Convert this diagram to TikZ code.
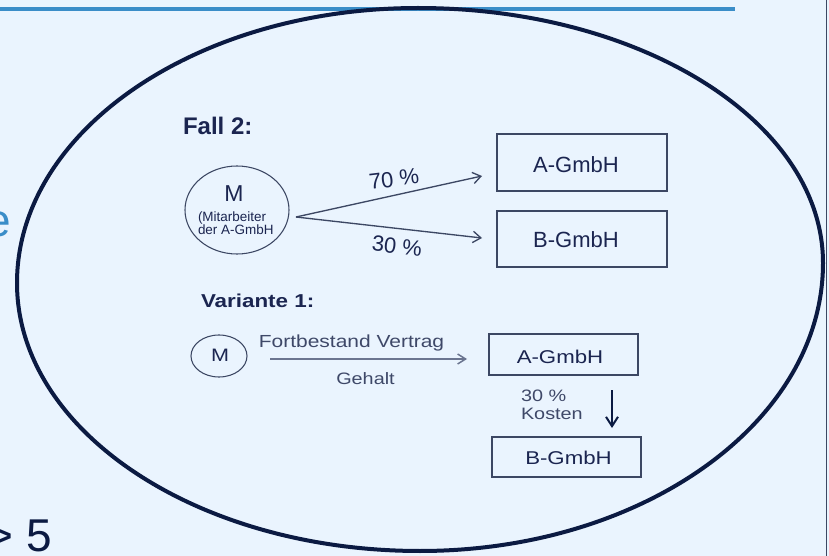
\documentclass[tikz,border=0pt]{standalone}
\usepackage{fontspec}
\setmainfont{Liberation Sans}
\newfontfamily\widesans[FakeStretch=1.2]{Liberation Sans}
\usetikzlibrary{arrows.meta,shapes.geometric}

\definecolor{bg}{HTML}{EAF4FE}
\definecolor{rulebl}{HTML}{3A8DC8}
\definecolor{navy}{HTML}{0B1A42}
\definecolor{boxline}{HTML}{3C4763}
\definecolor{txtdark}{HTML}{1B2550}
\definecolor{txtgray}{HTML}{3E4868}
\definecolor{arrgray}{HTML}{6B7590}

\begin{document}
\begin{tikzpicture}[x=0.75pt,y=-0.75pt,
  every node/.style={inner sep=0pt,outer sep=0pt},
  company/.style={draw=boxline,line width=1pt,rectangle},
  person/.style={draw=boxline,line width=0.8pt,ellipse},
  share/.style={draw=boxline,line width=1pt,-{Straight Barb[length=6pt,width=8.5pt]}},
  flow/.style={draw=arrgray,line width=1.1pt,-{Straight Barb[length=6pt,width=7.5pt]}},
  cost/.style={draw=navy,line width=1.5pt,-{Straight Barb[length=7pt,width=9pt]}}]

% canvas
\useasboundingbox (0,0) rectangle (829,556);
\fill[bg] (0,0) rectangle (829,556);
\clip (0,0) rectangle (829,556);

% slide furniture
\draw[rulebl,line width=2.6pt] (0,9) -- (735,9);
\draw[boxline,line width=1.1pt] (826.5,0) -- (826.5,556);
\node[anchor=base east,text=rulebl,font=\fontsize{34.5pt}{40pt}\selectfont] (headtail) at (11,237) {e};
\node[anchor=base east,text=navy,font=\fontsize{34.5pt}{40pt}\selectfont] (bullettail) at (52,551) {> 5};

% big outline around both cases
\draw[navy,line width=3pt]
  (823,263) .. controls (823,122.2) and (641.7,8) .. (418,8)
            .. controls (196.5,8) and (17,131.1) .. (17,283)
            .. controls (17,431) and (197.4,551) .. (420,551)
            .. controls (642.6,551) and (823,422.1) .. cycle;

% ---- Fall 2 ----
\node[anchor=base west,text=txtdark,font=\bfseries\fontsize{18pt}{21pt}\selectfont] (fall) at (183,135) {Fall 2:};

\node[person,minimum width=78pt,minimum height=66pt] (m1) at (237,210) {};
\node[anchor=base,text=txtdark,font=\fontsize{17.25pt}{20pt}\selectfont] (m1name) at (234,202) {M};
\node[anchor=base west,text=txtdark,font=\fontsize{10.1pt}{12pt}\selectfont] (m1l1) at (198,222) {(Mitarbeiter};
\node[anchor=base west,text=txtdark,font=\fontsize{10.1pt}{12pt}\selectfont] (m1l2) at (198,235) {der A-GmbH};

\node[company,minimum width=127.5pt,minimum height=42.75pt] (a1) at (582,162.5) {};
\node[text=txtdark,font=\fontsize{16.5pt}{19pt}\selectfont] (a1t) at (576,165) {A-GmbH};
\node[company,minimum width=127.5pt,minimum height=42pt] (b1) at (582,239) {};
\node[text=txtdark,font=\fontsize{16.5pt}{19pt}\selectfont] (b1t) at (576,239.5) {B-GmbH};

\coordinate (fork) at (296,217);
\coordinate (tipa) at (482,176);
\coordinate (tipb) at (482,238);
\draw[share] (fork) -- (tipa);
\draw[share] (fork) -- (tipb);
\node[text=txtdark,rotate=7,font=\fontsize{16.5pt}{19pt}\selectfont] (pa) at (394,179) {70 \%};
\node[text=txtdark,rotate=-6,font=\fontsize{16.5pt}{19pt}\selectfont] (pb) at (397,246) {30 \%};

% ---- Variante 1 ----
\node[anchor=base west,text=txtdark,font=\widesans\bfseries\fontsize{14pt}{17pt}\selectfont] (var) at (201,307) {Variante 1:};

\node[person,minimum width=42pt,minimum height=31.5pt] (m2) at (219,356) {};
\node[text=txtdark,font=\widesans\fontsize{13.5pt}{16pt}\selectfont] (m2t) at (220,355) {M};

\coordinate (vstart) at (270,359);
\coordinate (vend) at (467,359);
\draw[flow] (vstart) -- (vend);
\node[anchor=base,text=txtgray,font=\widesans\fontsize{13.1pt}{16pt}\selectfont] (vt) at (351.5,347) {Fortbestand Vertrag};
\node[anchor=base,text=txtgray,font=\widesans\fontsize{12.4pt}{15pt}\selectfont] (gh) at (365.5,384) {Gehalt};

\node[company,minimum width=111.75pt,minimum height=30.75pt] (a2) at (563.5,354.5) {};
\node[text=txtdark,font=\widesans\fontsize{13.9pt}{16pt}\selectfont] (a2t) at (560,357) {A-GmbH};
\node[company,minimum width=111.75pt,minimum height=30pt] (b2) at (566.5,457) {};
\node[text=txtdark,font=\widesans\fontsize{13.9pt}{16pt}\selectfont] (b2t) at (568.5,458) {B-GmbH};

\node[anchor=base west,text=txtgray,font=\widesans\fontsize{12.4pt}{13.5pt}\selectfont] (k1) at (521,401) {30 \%};
\node[anchor=base west,text=txtgray,font=\widesans\fontsize{12.4pt}{13.5pt}\selectfont] (k2) at (521,419) {Kosten};

\coordinate (dtop) at (612,390);
\coordinate (dbot) at (612,428);
\draw[cost] (dtop) -- (dbot);
\end{tikzpicture}
\end{document}
